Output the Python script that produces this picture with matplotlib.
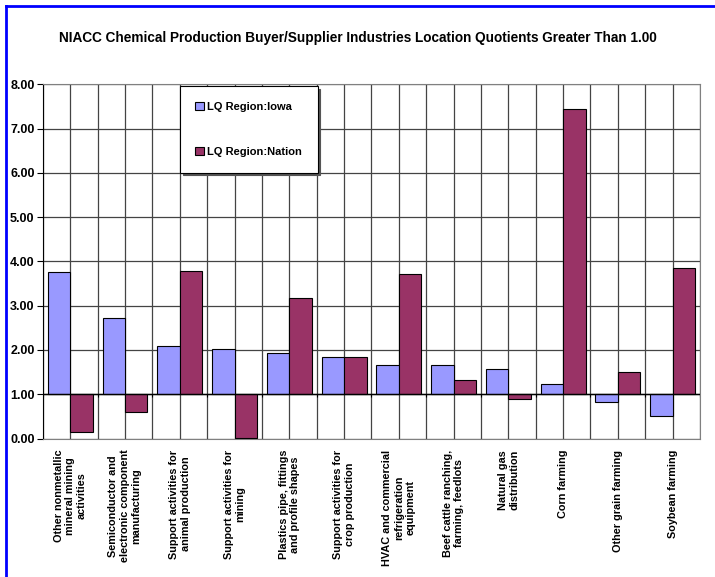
import numpy as np
import matplotlib.pyplot as plt
from matplotlib.lines import Line2D

plt.rcParams['font.family'] = ['Liberation Sans', 'DejaVu Sans']

# -----------------------------
# DATA
# -----------------------------
categories = [
    "Other nonmetallic\nmineral mining\nactivities",
    "Semiconductor and\nelectronic component\nmanufacturing",
    "Support activities for\nanimal production",
    "Support activities for\nmining",
    "Plastics pipe, fittings\nand profile shapes",
    "Support activities for\ncrop production",
    "HVAC and commercial\nrefrigeration\nequipment",
    "Beef cattle ranching,\nfarming, feedlots",
    "Natural gas\ndistribution",
    "Corn farming",
    "Other grain farming",
    "Soybean farming",
]
lq_iowa = [3.75, 2.72, 2.08, 2.03, 1.93, 1.84, 1.65, 1.65, 1.57, 1.24, 0.83, 0.50]
lq_nation = [0.15, 0.61, 3.79, 0.01, 3.18, 1.84, 3.71, 1.32, 0.89, 7.44, 1.50, 3.85]
series_names = ["LQ Region:Iowa", "LQ Region:Nation"]
baseline = 1.0
yticks = [0, 1, 2, 3, 4, 5, 6, 7, 8]

# -----------------------------
# FIGURE
# -----------------------------
fig = plt.figure(figsize=(7.15, 5.77), dpi=100)
ax = fig.add_axes([0.060, 0.240, 0.919, 0.614])

n = len(categories)
x = np.arange(n)
w = 0.41
iowa_h = np.array(lq_iowa) - baseline
nation_h = np.array(lq_nation) - baseline

ax.bar(x, iowa_h, width=-w, bottom=baseline, align='edge', color='#9999FF',
       edgecolor='black', linewidth=0.8, zorder=3, label=series_names[0])
ax.bar(x, nation_h, width=w, bottom=baseline, align='edge', color='#993366',
       edgecolor='black', linewidth=0.8, zorder=3, label=series_names[1])

# category axis crosses at 1.00
ax.axhline(baseline, color='black', linewidth=1, zorder=4)
bounds = np.arange(n + 1) - 0.5
ax.vlines(bounds, baseline - 0.07, baseline, color='black', linewidth=0.8, zorder=4)

ax.set_xlim(-0.5, n - 0.5)
ax.set_ylim(0, 8)

ax.set_yticks(yticks)
ax.set_yticklabels([f"{v:.2f}" for v in yticks], fontsize=9, fontweight='bold')
ax.tick_params(axis='y', length=4, width=0.8, pad=2)

# gridlines at every category boundary and centre; labels only at centres
half = np.arange(-0.5, n, 0.5)
labels = []
for p in half:
    labels.append(categories[int(p)] if float(p).is_integer() else "")
ax.set_xticks(half)
ax.set_xticklabels(labels, rotation=90, fontsize=7.8, fontweight='bold',
                   va='top', ha='center', multialignment='center')
ax.tick_params(axis='x', length=0, pad=8)

ax.grid(axis='x', color='#444444', linewidth=0.9, zorder=0)
ax.grid(axis='y', color='#444444', linewidth=0.9, zorder=0)
ax.set_axisbelow(True)

for side in ['top', 'right', 'bottom']:
    ax.spines[side].set_color('#808080')
ax.spines['left'].set_color('black')

leg = ax.legend(loc='upper left', bbox_to_anchor=(0.2085, 0.995),
                prop={'weight': 'bold', 'size': 8}, frameon=True, fancybox=False,
                edgecolor='black', borderpad=1.4, labelspacing=3.2,
                handlelength=0.75, handleheight=0.75, handletextpad=0.3,
                borderaxespad=0, shadow={'color': '#555555', 'alpha': 1.0})
leg.get_frame().set_linewidth(0.8)
leg.set_zorder(5)

fig.text(0.5, 1 - 38 / 577, "NIACC Chemical Production Buyer/Supplier Industries Location Quotients Greater Than 1.00",
         ha='center', va='center', fontsize=9.8, fontweight='bold')

# blue border at left and top
fig.add_artist(Line2D([5.5 / 715, 5.5 / 715], [0, 1 - 5.5 / 577], color='#0000FF', linewidth=2))
fig.add_artist(Line2D([5.5 / 715, 1], [1 - 5.5 / 577, 1 - 5.5 / 577], color='#0000FF', linewidth=2))

fig.savefig("out.png", dpi=100)
